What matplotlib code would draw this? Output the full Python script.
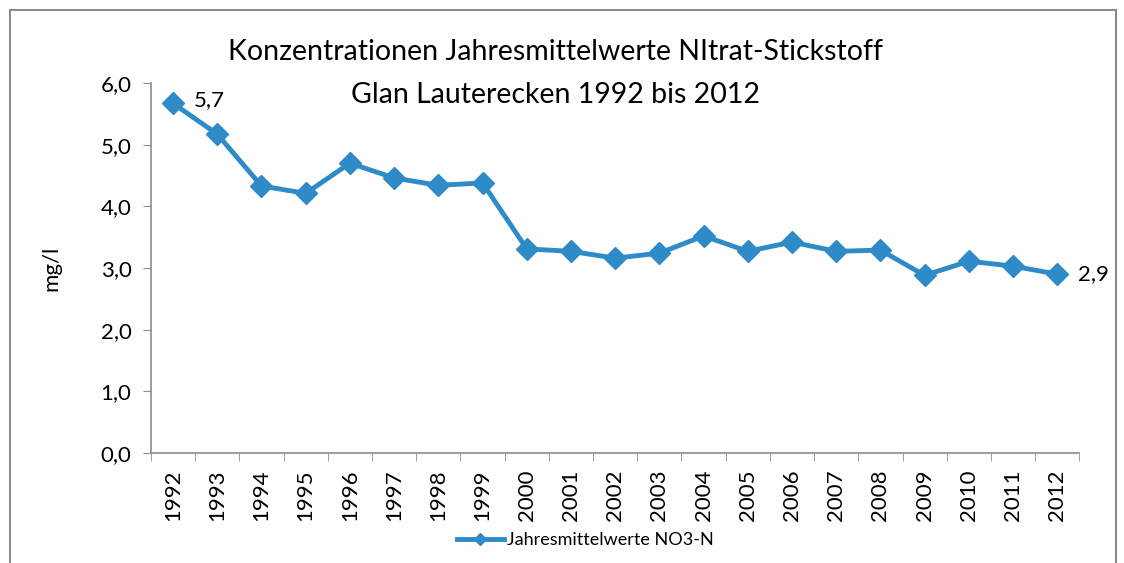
import numpy as np
import matplotlib
matplotlib.use("Agg")
import matplotlib.pyplot as plt
from matplotlib.patches import Rectangle
from matplotlib.ticker import FixedLocator

plt.rcParams["font.family"] = ["Lato", "DejaVu Sans"]

years = [str(y) for y in range(1992, 2013)]
no3_n = [5.67, 5.17, 4.33, 4.21, 4.70, 4.46, 4.34, 4.38, 3.31, 3.27, 3.16,
         3.24, 3.52, 3.27, 3.42, 3.27, 3.29, 2.88, 3.11, 3.03, 2.90]
series_name = "Jahresmittelwerte NO3-N"
title_1 = "Konzentrationen Jahresmittelwerte NItrat-Stickstoff"
title_2 = "Glan Lauterecken 1992 bis 2012"

BLUE = "#2e8bc8"
GREY = "#8c8c8c"

fig = plt.figure(figsize=(11.24, 5.63), dpi=100)
ax = fig.add_axes([0.1343, 0.1954, 0.826, 0.6572])

x = np.arange(len(years))
ax.plot(x, no3_n, color=BLUE, lw=3.5, marker="D", ms=11.5,
        markerfacecolor=BLUE, markeredgecolor=BLUE, label=series_name)

# data labels at first and last point
for i in (0, -1):
    ax.annotate(f"{no3_n[i]:.1f}".replace(".", ","), (x[i], no3_n[i]),
                xytext=(15, 2 if i == 0 else 0), textcoords="offset points",
                va="center", fontsize=16)

ax.set_xlim(-0.5, len(years) - 0.5)
ax.set_ylim(0, 6)
ax.set_yticks(np.arange(0, 6.1, 1))
ax.set_yticklabels([f"{v:.1f}".replace(".", ",") for v in np.arange(0, 6.1, 1)])
ax.set_xticks(x)
ax.set_xticklabels(years, rotation=90)
ax.xaxis.set_minor_locator(FixedLocator(np.arange(-0.5, len(years), 1)))

ax.tick_params(axis="x", which="major", length=0, labelsize=16, pad=12)
ax.tick_params(axis="x", which="minor", length=6, color=GREY, direction="out")
ax.tick_params(axis="y", length=6, color=GREY, labelsize=16, pad=8)

for side in ("top", "right"):
    ax.spines[side].set_visible(False)
for side in ("left", "bottom"):
    ax.spines[side].set_color(GREY)
    ax.spines[side].set_linewidth(1.2)

ax.set_ylabel("mg/l", fontsize=16, labelpad=28)
fig.text(0.494, 0.907, title_1, ha="center", va="center", fontsize=20.5)
fig.text(0.494, 0.831, title_2, ha="center", va="center", fontsize=20.5)

ax.legend(loc="center", bbox_to_anchor=(0.468, -0.235), frameon=False,
          fontsize=13, handlelength=2.6, handletextpad=0.2, markerscale=0.5)

fig.patches.append(Rectangle((0.009, -0.05), 0.984, 1.032,
                             transform=fig.transFigure, fill=False,
                             edgecolor=GREY, lw=1.5))

fig.savefig("out.png", dpi=100)
